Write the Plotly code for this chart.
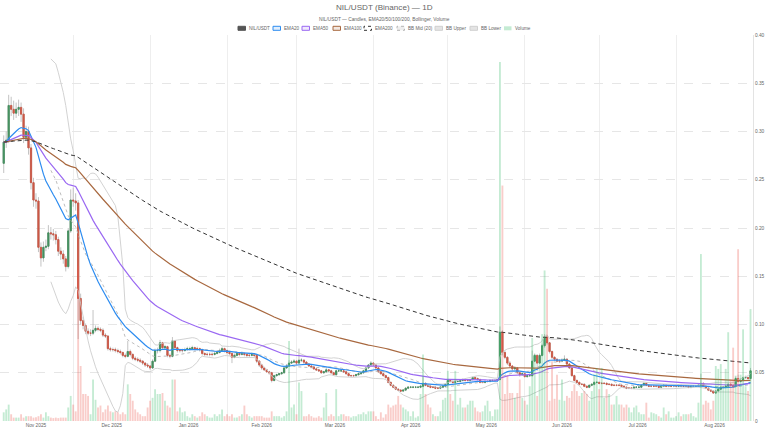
import pandas as pd
import plotly.graph_objects as go

# daily candles, first day 2025-11-03
start_date = "2025-11-03"

opens = [
    0.267, 0.289, 0.291, 0.327, 0.323, 0.319, 0.323, 0.325, 0.318, 0.294,
    0.300, 0.283, 0.247, 0.229, 0.228, 0.180, 0.169, 0.180, 0.181, 0.195,
    0.194, 0.193, 0.188, 0.176, 0.173, 0.168, 0.160, 0.197, 0.229, 0.228,
    0.226, 0.127, 0.104, 0.099, 0.093, 0.091, 0.091, 0.094, 0.096, 0.095,
    0.094, 0.089, 0.088, 0.075, 0.074, 0.074, 0.073, 0.072, 0.071, 0.068,
    0.067, 0.072, 0.069, 0.065, 0.064, 0.063, 0.062, 0.060, 0.058, 0.057,
    0.055, 0.062, 0.073, 0.073, 0.081, 0.076, 0.077, 0.068, 0.067, 0.083,
    0.076, 0.073, 0.073, 0.073, 0.074, 0.075, 0.075, 0.076, 0.075, 0.075,
    0.074, 0.070, 0.069, 0.069, 0.069, 0.069, 0.070, 0.071, 0.073, 0.075,
    0.073, 0.071, 0.070, 0.066, 0.068, 0.070, 0.069, 0.070, 0.069, 0.068,
    0.068, 0.069, 0.068, 0.062, 0.058, 0.055, 0.053, 0.051, 0.050, 0.042,
    0.047, 0.048, 0.049, 0.050, 0.055, 0.057, 0.060, 0.061, 0.062, 0.060,
    0.063, 0.063, 0.061, 0.059, 0.057, 0.056, 0.054, 0.053, 0.052, 0.050,
    0.051, 0.053, 0.052, 0.050, 0.048, 0.052, 0.052, 0.052, 0.051, 0.049,
    0.047, 0.047, 0.047, 0.048, 0.049, 0.050, 0.052, 0.055, 0.058, 0.060,
    0.058, 0.055, 0.051, 0.049, 0.047, 0.045, 0.040, 0.037, 0.035, 0.033,
    0.032, 0.031, 0.032, 0.034, 0.035, 0.035, 0.035, 0.035, 0.035, 0.036,
    0.039, 0.037, 0.036, 0.035, 0.035, 0.034, 0.034, 0.035, 0.036, 0.038,
    0.042, 0.041, 0.040, 0.041, 0.041, 0.042, 0.043, 0.042, 0.042, 0.043,
    0.045, 0.044, 0.043, 0.040, 0.040, 0.041, 0.041, 0.042, 0.042, 0.042,
    0.043, 0.092, 0.071, 0.066, 0.060, 0.057, 0.054, 0.055, 0.050, 0.048,
    0.049, 0.046, 0.047, 0.047, 0.062, 0.068, 0.060, 0.068, 0.078, 0.087,
    0.081, 0.072, 0.066, 0.064, 0.062, 0.062, 0.063, 0.064, 0.059, 0.055,
    0.047, 0.042, 0.040, 0.038, 0.038, 0.036, 0.035, 0.037, 0.038, 0.040,
    0.040, 0.039, 0.039, 0.039, 0.038, 0.038, 0.037, 0.037, 0.037, 0.037,
    0.036, 0.035, 0.034, 0.034, 0.034, 0.035, 0.035, 0.035, 0.037, 0.039,
    0.037, 0.036, 0.036, 0.036, 0.036, 0.035, 0.036, 0.037, 0.036, 0.036,
    0.036, 0.036, 0.036, 0.037, 0.036, 0.036, 0.036, 0.035, 0.036, 0.036,
    0.036, 0.037, 0.039, 0.036, 0.034, 0.032, 0.031, 0.029, 0.031, 0.033,
    0.035, 0.035, 0.036, 0.038, 0.037, 0.036, 0.044, 0.041, 0.042, 0.045,
    0.045, 0.044,
]

highs = [
    0.296, 0.300, 0.338, 0.336, 0.332, 0.330, 0.333, 0.330, 0.324, 0.306,
    0.305, 0.287, 0.252, 0.236, 0.232, 0.185, 0.186, 0.188, 0.203, 0.201,
    0.199, 0.197, 0.191, 0.180, 0.177, 0.171, 0.200, 0.240, 0.242, 0.236,
    0.229, 0.132, 0.108, 0.101, 0.096, 0.095, 0.115, 0.099, 0.098, 0.097,
    0.096, 0.091, 0.089, 0.077, 0.076, 0.076, 0.075, 0.074, 0.072, 0.070,
    0.083, 0.074, 0.070, 0.067, 0.066, 0.065, 0.063, 0.061, 0.060, 0.058,
    0.064, 0.075, 0.076, 0.084, 0.082, 0.079, 0.078, 0.070, 0.087, 0.084,
    0.077, 0.075, 0.075, 0.076, 0.077, 0.077, 0.078, 0.077, 0.077, 0.076,
    0.075, 0.071, 0.071, 0.071, 0.071, 0.072, 0.073, 0.075, 0.077, 0.076,
    0.074, 0.072, 0.071, 0.070, 0.072, 0.071, 0.072, 0.071, 0.070, 0.070,
    0.071, 0.070, 0.069, 0.063, 0.059, 0.056, 0.054, 0.052, 0.051, 0.048,
    0.049, 0.050, 0.051, 0.056, 0.059, 0.063, 0.063, 0.064, 0.063, 0.075,
    0.065, 0.064, 0.062, 0.060, 0.058, 0.057, 0.055, 0.054, 0.053, 0.052,
    0.056, 0.054, 0.053, 0.051, 0.053, 0.054, 0.053, 0.053, 0.052, 0.050,
    0.048, 0.048, 0.049, 0.050, 0.051, 0.053, 0.056, 0.059, 0.062, 0.061,
    0.059, 0.056, 0.052, 0.050, 0.048, 0.046, 0.041, 0.038, 0.036, 0.034,
    0.033, 0.033, 0.035, 0.036, 0.036, 0.036, 0.036, 0.036, 0.037, 0.046,
    0.040, 0.038, 0.037, 0.036, 0.036, 0.035, 0.036, 0.037, 0.039, 0.043,
    0.043, 0.042, 0.042, 0.042, 0.043, 0.044, 0.044, 0.043, 0.044, 0.046,
    0.046, 0.045, 0.044, 0.041, 0.042, 0.042, 0.043, 0.043, 0.043, 0.044,
    0.098, 0.094, 0.073, 0.067, 0.062, 0.058, 0.057, 0.056, 0.051, 0.050,
    0.050, 0.048, 0.049, 0.073, 0.070, 0.069, 0.070, 0.080, 0.090, 0.089,
    0.082, 0.073, 0.067, 0.065, 0.064, 0.065, 0.068, 0.065, 0.060, 0.056,
    0.048, 0.043, 0.041, 0.039, 0.039, 0.037, 0.038, 0.039, 0.041, 0.041,
    0.041, 0.040, 0.040, 0.040, 0.039, 0.039, 0.038, 0.038, 0.038, 0.038,
    0.037, 0.036, 0.035, 0.035, 0.036, 0.036, 0.036, 0.038, 0.040, 0.040,
    0.038, 0.037, 0.037, 0.037, 0.037, 0.037, 0.038, 0.038, 0.037, 0.037,
    0.037, 0.037, 0.038, 0.038, 0.037, 0.037, 0.037, 0.037, 0.037, 0.037,
    0.038, 0.049, 0.040, 0.037, 0.035, 0.033, 0.032, 0.032, 0.034, 0.036,
    0.036, 0.037, 0.039, 0.039, 0.038, 0.046, 0.048, 0.044, 0.046, 0.047,
    0.046, 0.055,
]

lows = [
    0.257, 0.283, 0.288, 0.316, 0.312, 0.314, 0.316, 0.310, 0.288, 0.290,
    0.276, 0.240, 0.222, 0.220, 0.175, 0.160, 0.165, 0.176, 0.178, 0.188,
    0.187, 0.183, 0.171, 0.167, 0.163, 0.155, 0.158, 0.195, 0.222, 0.218,
    0.085, 0.100, 0.095, 0.090, 0.089, 0.088, 0.089, 0.092, 0.093, 0.092,
    0.087, 0.086, 0.073, 0.072, 0.072, 0.071, 0.070, 0.069, 0.066, 0.065,
    0.066, 0.067, 0.063, 0.062, 0.061, 0.060, 0.058, 0.056, 0.055, 0.053,
    0.054, 0.061, 0.070, 0.071, 0.074, 0.074, 0.066, 0.065, 0.066, 0.074,
    0.071, 0.071, 0.071, 0.072, 0.073, 0.073, 0.074, 0.073, 0.073, 0.072,
    0.068, 0.067, 0.067, 0.067, 0.067, 0.068, 0.069, 0.070, 0.072, 0.071,
    0.069, 0.068, 0.060, 0.065, 0.067, 0.067, 0.068, 0.067, 0.066, 0.066,
    0.067, 0.066, 0.060, 0.056, 0.053, 0.052, 0.050, 0.048, 0.040, 0.041,
    0.046, 0.047, 0.048, 0.049, 0.054, 0.056, 0.059, 0.060, 0.058, 0.059,
    0.061, 0.059, 0.058, 0.056, 0.055, 0.053, 0.052, 0.051, 0.049, 0.049,
    0.050, 0.051, 0.049, 0.047, 0.047, 0.051, 0.051, 0.050, 0.048, 0.046,
    0.046, 0.046, 0.046, 0.047, 0.048, 0.049, 0.051, 0.054, 0.057, 0.057,
    0.054, 0.050, 0.048, 0.046, 0.044, 0.039, 0.036, 0.034, 0.032, 0.031,
    0.030, 0.030, 0.031, 0.033, 0.034, 0.034, 0.034, 0.034, 0.034, 0.035,
    0.036, 0.035, 0.034, 0.034, 0.033, 0.033, 0.033, 0.034, 0.035, 0.037,
    0.040, 0.039, 0.039, 0.040, 0.040, 0.041, 0.041, 0.041, 0.041, 0.042,
    0.043, 0.042, 0.039, 0.039, 0.039, 0.040, 0.040, 0.041, 0.041, 0.041,
    0.042, 0.068, 0.064, 0.058, 0.055, 0.052, 0.053, 0.049, 0.046, 0.047,
    0.045, 0.045, 0.046, 0.046, 0.061, 0.052, 0.059, 0.067, 0.076, 0.079,
    0.070, 0.064, 0.062, 0.061, 0.060, 0.061, 0.062, 0.058, 0.054, 0.046,
    0.041, 0.039, 0.037, 0.037, 0.035, 0.034, 0.034, 0.036, 0.037, 0.039,
    0.038, 0.038, 0.038, 0.037, 0.037, 0.036, 0.036, 0.036, 0.036, 0.035,
    0.034, 0.033, 0.033, 0.033, 0.033, 0.034, 0.034, 0.034, 0.036, 0.036,
    0.035, 0.035, 0.035, 0.035, 0.034, 0.034, 0.035, 0.035, 0.035, 0.035,
    0.035, 0.035, 0.035, 0.035, 0.035, 0.035, 0.034, 0.034, 0.035, 0.035,
    0.035, 0.036, 0.035, 0.033, 0.031, 0.030, 0.028, 0.028, 0.030, 0.032,
    0.034, 0.034, 0.035, 0.036, 0.035, 0.035, 0.040, 0.040, 0.041, 0.044,
    0.043, 0.043,
]

closes = [
    0.289, 0.291, 0.327, 0.323, 0.319, 0.323, 0.325, 0.318, 0.294, 0.300,
    0.283, 0.247, 0.229, 0.228, 0.180, 0.169, 0.180, 0.181, 0.195, 0.194,
    0.193, 0.188, 0.176, 0.173, 0.168, 0.160, 0.197, 0.229, 0.228, 0.226,
    0.127, 0.104, 0.099, 0.093, 0.091, 0.091, 0.094, 0.096, 0.095, 0.094,
    0.089, 0.088, 0.075, 0.074, 0.074, 0.073, 0.072, 0.071, 0.068, 0.067,
    0.072, 0.069, 0.065, 0.064, 0.063, 0.062, 0.060, 0.058, 0.057, 0.055,
    0.062, 0.073, 0.073, 0.081, 0.076, 0.077, 0.068, 0.067, 0.083, 0.076,
    0.073, 0.073, 0.073, 0.074, 0.075, 0.075, 0.076, 0.075, 0.075, 0.074,
    0.070, 0.069, 0.069, 0.069, 0.069, 0.070, 0.071, 0.073, 0.075, 0.073,
    0.071, 0.070, 0.066, 0.068, 0.070, 0.069, 0.070, 0.069, 0.068, 0.068,
    0.069, 0.068, 0.062, 0.058, 0.055, 0.053, 0.051, 0.050, 0.042, 0.047,
    0.048, 0.049, 0.050, 0.055, 0.057, 0.060, 0.061, 0.062, 0.060, 0.063,
    0.063, 0.061, 0.059, 0.057, 0.056, 0.054, 0.053, 0.052, 0.050, 0.051,
    0.053, 0.052, 0.050, 0.048, 0.052, 0.052, 0.052, 0.051, 0.049, 0.047,
    0.047, 0.047, 0.048, 0.049, 0.050, 0.052, 0.055, 0.058, 0.060, 0.058,
    0.055, 0.051, 0.049, 0.047, 0.045, 0.040, 0.037, 0.035, 0.033, 0.032,
    0.031, 0.032, 0.034, 0.035, 0.035, 0.035, 0.035, 0.035, 0.036, 0.039,
    0.037, 0.036, 0.035, 0.035, 0.034, 0.034, 0.035, 0.036, 0.038, 0.042,
    0.041, 0.040, 0.041, 0.041, 0.042, 0.043, 0.042, 0.042, 0.043, 0.045,
    0.044, 0.043, 0.040, 0.040, 0.041, 0.041, 0.042, 0.042, 0.042, 0.043,
    0.092, 0.071, 0.066, 0.060, 0.057, 0.054, 0.055, 0.050, 0.048, 0.049,
    0.046, 0.047, 0.047, 0.062, 0.068, 0.060, 0.068, 0.078, 0.087, 0.081,
    0.072, 0.066, 0.064, 0.062, 0.062, 0.063, 0.064, 0.059, 0.055, 0.047,
    0.042, 0.040, 0.038, 0.038, 0.036, 0.035, 0.037, 0.038, 0.040, 0.040,
    0.039, 0.039, 0.039, 0.038, 0.038, 0.037, 0.037, 0.037, 0.037, 0.036,
    0.035, 0.034, 0.034, 0.034, 0.035, 0.035, 0.035, 0.037, 0.039, 0.037,
    0.036, 0.036, 0.036, 0.036, 0.035, 0.036, 0.037, 0.036, 0.036, 0.036,
    0.036, 0.036, 0.037, 0.036, 0.036, 0.036, 0.035, 0.036, 0.036, 0.036,
    0.037, 0.039, 0.036, 0.034, 0.032, 0.031, 0.029, 0.031, 0.033, 0.035,
    0.035, 0.036, 0.038, 0.037, 0.036, 0.044, 0.041, 0.042, 0.045, 0.045,
    0.044, 0.052,
]

# volume in millions NIL
volumes = [
    0.9, 1.2, 1.7, 0.7, 0.35, 0.35, 0.35, 0.7, 0.35, 0.5,
    0.5, 0.5, 0.35, 0.4, 0.5, 0.7, 0.35, 0.9, 0.5, 0.35,
    0.3, 0.35, 0.3, 0.35, 0.35, 0.35, 1.4, 2.6, 1.7, 1.0,
    16.1, 5.7, 2.8, 2.8, 2.6, 0.7, 4.3, 2.2, 1.4, 1.6,
    0.9, 1.2, 1.6, 1.0, 0.9, 1.0, 0.9, 0.7, 0.9, 0.7,
    3.8, 2.8, 2.1, 1.2, 0.9, 0.7, 0.5, 0.5, 1.4, 2.1,
    2.4, 3.3, 2.8, 2.8, 2.9, 2.1, 1.6, 1.4, 4.3, 4.3,
    1.0, 1.4, 0.9, 1.0, 0.5, 0.35, 0.7, 0.5, 0.35, 0.5,
    0.9, 0.7, 0.5, 0.35, 0.35, 0.7, 0.5, 0.7, 1.2, 0.5,
    0.7, 0.5, 0.7, 0.35, 0.35, 0.5, 0.7, 1.6, 0.7, 0.5,
    0.35, 0.5, 0.5, 0.5, 0.5, 0.35, 0.35, 0.35, 1.0, 0.5,
    0.5, 0.5, 0.35, 0.5, 1.0, 8.3, 1.4, 1.7, 0.7, 4.0,
    3.1, 0.5, 0.5, 0.7, 0.5, 0.35, 0.35, 0.5, 0.35, 1.4,
    2.9, 0.5, 0.7, 0.5, 3.3, 0.5, 0.7, 0.7, 0.5, 0.5,
    0.35, 0.5, 0.5, 0.7, 0.7, 0.9, 0.7, 1.0, 1.0, 1.0,
    0.5, 0.2, 0.9, 0.35, 0.7, 1.7, 1.4, 1.6, 1.7, 2.6,
    1.7, 1.4, 1.2, 1.0, 0.5, 1.0, 0.35, 0.5, 2.8, 6.9,
    2.8, 1.7, 1.4, 0.7, 0.5, 0.5, 1.0, 2.2, 2.4, 5.2,
    2.8, 2.1, 5.2, 1.7, 2.4, 1.4, 1.4, 1.7, 2.1, 2.1,
    1.4, 1.0, 0.9, 1.0, 1.6, 2.1, 1.0, 0.5, 1.2, 1.2,
    37.2, 24.4, 2.8, 4.7, 2.9, 2.9, 2.4, 2.9, 4.3, 2.4,
    2.1, 1.7, 3.6, 8.6, 6.9, 2.6, 6.2, 9.0, 15.6, 13.7,
    2.1, 6.2, 2.3, 4.8, 2.2, 4.3, 2.1, 2.6, 2.4, 3.1,
    3.8, 3.1, 2.6, 2.9, 3.1, 2.8, 2.1, 3.1, 4.8, 5.5,
    3.3, 5.5, 2.4, 3.3, 2.8, 1.7, 1.7, 2.6, 1.7, 1.7,
    1.4, 1.7, 1.4, 0.9, 1.4, 1.6, 0.9, 0.7, 0.7, 1.9,
    0.35, 0.9, 0.8, 0.7, 0.5, 0.35, 1.4, 0.7, 1.0, 0.35,
    0.35, 0.5, 0.9, 0.5, 0.7, 0.7, 0.7, 0.8, 0.5, 0.35,
    1.9, 17.3, 1.7, 2.1, 1.9, 1.2, 2.1, 5.7, 5.4, 5.9,
    3.5, 5.4, 9.2, 4.3, 7.6, 4.7, 17.8, 4.8, 9.5, 3.6,
    3.1, 11.6,
]

price_ticks = [0, 0.05, 0.10, 0.15, 0.20, 0.25, 0.30, 0.35, 0.40]
price_tick_labels = ["0", "0.05", "0.10", "0.15", "0.20", "0.25", "0.30", "0.35", "0.40"]

# ---- indicators
dates = pd.date_range(start_date, periods=len(closes), freq="D")
close_s = pd.Series(closes, index=dates)
ema = {n: close_s.ewm(span=n, adjust=False).mean() for n in (20, 50, 100, 200)}
bb_mid = close_s.rolling(20).mean()
bb_std = close_s.rolling(20).std(ddof=0)
bb_upper = bb_mid + 2 * bb_std
bb_lower = bb_mid - 2 * bb_std

GREEN = "#44905f"
RED = "#cc5846"
WICK = "#b4b4b4"
VOL_UP = "rgba(60,190,110,0.30)"
VOL_DOWN = "rgba(235,90,80,0.30)"
EMA_COLORS = {20: "#2d8cf0", 50: "#9a68f2", 100: "#a8683f", 200: "#333333"}
FONT = "Liberation Sans, Arial, sans-serif"

fig = go.Figure()

vol_colors = [VOL_UP if c >= o else VOL_DOWN for o, c in zip(opens, closes)]
fig.add_trace(go.Bar(x=dates, y=volumes, yaxis="y2", marker=dict(color=vol_colors, line_width=0),
                     name="Volume", showlegend=False, hoverinfo="skip"))

fig.add_trace(go.Scatter(x=dates, y=bb_upper, mode="lines", line=dict(color="#cdcdcd", width=0.9),
                         name="BB Upper", showlegend=False))
fig.add_trace(go.Scatter(x=dates, y=bb_lower, mode="lines", line=dict(color="#cdcdcd", width=0.9),
                         name="BB Lower", showlegend=False))
fig.add_trace(go.Scatter(x=dates, y=bb_mid, mode="lines", line=dict(color="#b5b5b5", width=0.9, dash="dot"),
                         name="BB Mid (20)", showlegend=False))

# candles: gray wicks underneath, coloured bodies (no wick) on top
fig.add_trace(go.Candlestick(
    x=dates, open=opens, high=highs, low=lows, close=closes, name="NIL/USDT wicks",
    increasing=dict(fillcolor=WICK, line=dict(color=WICK, width=0.8)),
    decreasing=dict(fillcolor=WICK, line=dict(color=WICK, width=0.8)),
    showlegend=False, hoverinfo="skip",
))
body_top = [max(o, c) for o, c in zip(opens, closes)]
body_bot = [min(o, c) for o, c in zip(opens, closes)]
fig.add_trace(go.Candlestick(
    x=dates, open=opens, high=body_top, low=body_bot, close=closes, name="NIL/USDT",
    increasing=dict(fillcolor=GREEN, line=dict(color=GREEN, width=0.9)),
    decreasing=dict(fillcolor=RED, line=dict(color=RED, width=0.9)),
    showlegend=False,
))

for n in (20, 50, 100):
    fig.add_trace(go.Scatter(x=dates, y=ema[n], mode="lines", name=f"EMA{n}",
                             line=dict(color=EMA_COLORS[n], width=1.2), showlegend=False))
fig.add_trace(go.Scatter(x=dates, y=ema[200], mode="lines", name="EMA200",
                         line=dict(color=EMA_COLORS[200], width=1.0, dash="4px,3px"), showlegend=False))

# ---- legend drawn as boxes + labels (pixel positions on the 768x432 page)
legend_items = [
    ("NIL/USDT", "#555555", "#555555", "solid"),
    ("EMA20", "rgba(45,140,240,0.15)", EMA_COLORS[20], "solid"),
    ("EMA50", "rgba(154,104,242,0.15)", EMA_COLORS[50], "solid"),
    ("EMA100", "rgba(168,104,63,0.15)", EMA_COLORS[100], "solid"),
    ("EMA200", "rgba(255,255,255,0)", EMA_COLORS[200], "dot"),
    ("BB Mid (20)", "#eeeeee", "#b5b5b5", "dot"),
    ("BB Upper", "#e4e4e4", "#d0d0d0", "solid"),
    ("BB Lower", "#e4e4e4", "#d0d0d0", "solid"),
    ("Volume", VOL_UP, "rgba(0,0,0,0)", "solid"),
]
legend_x_px = [238, 273, 302, 333, 364, 397, 435, 470, 504]

W, H = 768, 432
M = dict(l=0, r=15, t=35, b=11)
plot_w = W - M["l"] - M["r"]
plot_h = H - M["t"] - M["b"]


def px_x(px):
    return (px - M["l"]) / plot_w


def px_y(py):
    return (H - M["b"] - py) / plot_h


shapes, annotations = [], []
for (label, fill, border, dash), x0 in zip(legend_items, legend_x_px):
    shapes.append(dict(type="rect", xref="paper", yref="paper",
                       x0=px_x(x0), x1=px_x(x0 + 7.5), y0=px_y(30.3), y1=px_y(26.3),
                       fillcolor=fill, line=dict(color=border, width=1, dash=dash)))
    annotations.append(dict(text=label, xref="paper", yref="paper", x=px_x(x0 + 8.5), y=px_y(28.4),
                            xanchor="left", yanchor="middle", showarrow=False,
                            font=dict(size=4.6, color="#666666", family=FONT)))

annotations.append(dict(text="NIL/USDT (Binance) — 1D", xref="paper", yref="paper",
                        x=px_x(384), y=px_y(7.5), xanchor="center", yanchor="middle", showarrow=False,
                        font=dict(size=8.1, color="#666666", family=FONT)))
annotations.append(dict(text="NIL/USDT — Candles, EMA20/50/100/200, Bollinger, Volume",
                        xref="paper", yref="paper", x=px_x(384), y=px_y(19.4),
                        xanchor="center", yanchor="middle", showarrow=False,
                        font=dict(size=4.8, color="#666666", family=FONT)))

fig.update_layout(
    width=W, height=H, margin=M,
    paper_bgcolor="white", plot_bgcolor="white",
    font=dict(family=FONT, size=4.8, color="#666666"),
    showlegend=False, bargap=0.25,
    shapes=shapes, annotations=annotations,
    xaxis=dict(
        type="date", range=["2025-11-01 12:00", "2026-09-01"],
        dtick="M1", tick0="2025-11-01", tickformat="%b %Y", ticklabelmode="period",
        showgrid=True, gridcolor="#eeeeee", gridwidth=1, zeroline=False,
        showline=False, ticks="", rangeslider=dict(visible=False),
        tickfont=dict(size=4.8, color="#666666"),
    ),
    yaxis=dict(
        side="right", range=[0, 0.40], tickvals=price_ticks, ticktext=price_tick_labels,
        showgrid=True, gridcolor="#e6e6e6", griddash="dash", gridwidth=1, zeroline=False,
        showline=True, linecolor="#e3e3e3", linewidth=1, ticks="",
        tickfont=dict(size=4.8, color="#666666"),
    ),
    yaxis2=dict(overlaying="y", range=[0, 40], visible=False, showgrid=False),
)

# page body has an 8px default margin; drop it so the figure sits at the page corner
fig.write_html("out.html", config={"displayModeBar": False},
               post_script="document.body.style.margin='0px';")
